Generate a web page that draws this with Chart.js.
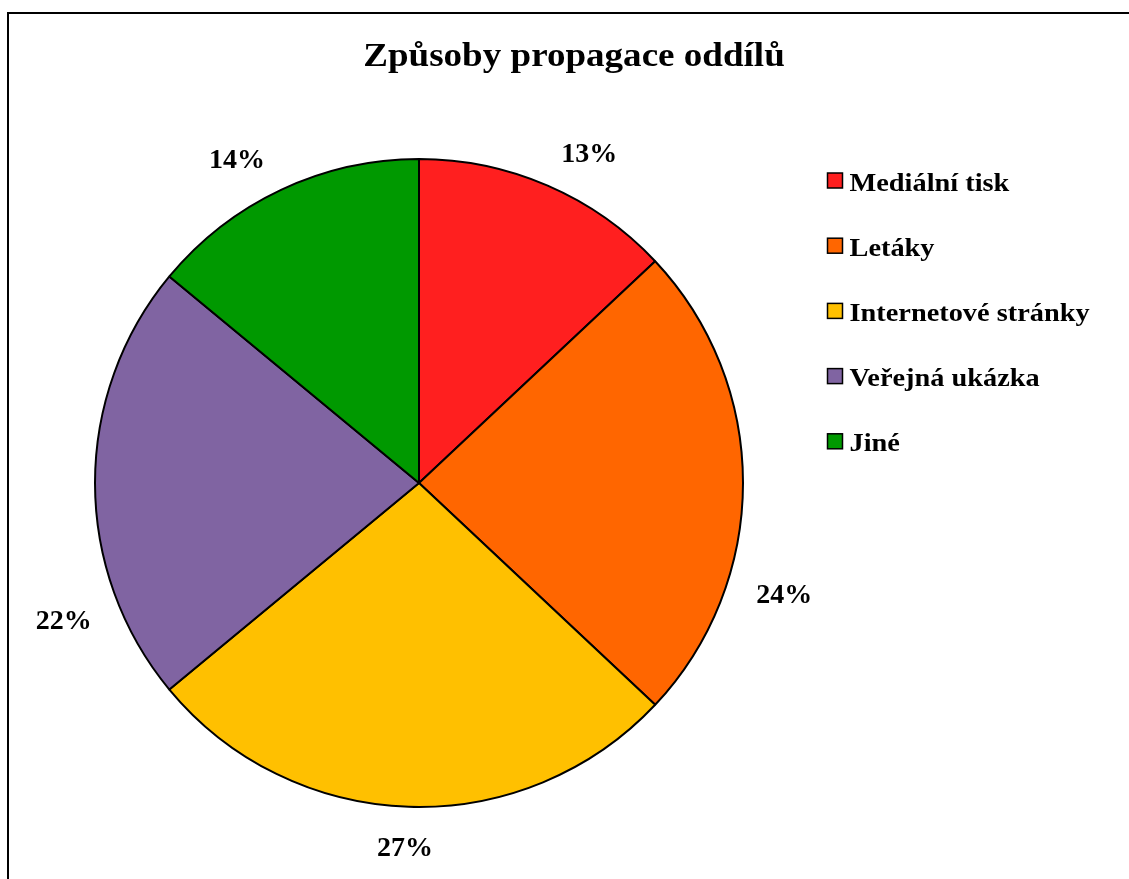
<!DOCTYPE html>
<html lang="cs">
<head>
<meta charset="utf-8">
<title>Způsoby propagace oddílů</title>
<script src="https://cdn.jsdelivr.net/npm/chart.js@4.4.1/dist/chart.umd.min.js"></script>
<style>
    html, body { margin: 0; padding: 0; background: #fff; overflow: hidden; }
    #frame {
        position: absolute; left: 7px; top: 12px;
        width: 1300px; height: 1000px;
        border-left: 2px solid #000; border-top: 2px solid #000;
        pointer-events: none;
    }
    #chart { position: absolute; left: 0; top: 0; }
</style>
</head>
<body>
<canvas id="chart" width="1129" height="879"></canvas>
<div id="frame"></div>
<script>
const TITLE = "Způsoby propagace oddílů";
const LABELS = ["Mediální tisk", "Letáky", "Internetové stránky", "Veřejná ukázka", "Jiné"];
const SHARES = [13, 24, 27, 22, 14]; // percent
const COLORS = ["#ff1f1f", "#ff6600", "#ffc000", "#8064a2", "#009900"];

const FONT = '"Liberation Serif", "Times New Roman", serif';

// draw text squeezed/stretched horizontally around its anchor
function stretchedText(ctx, text, x, y, sx) {
    ctx.save();
    ctx.translate(x, y);
    ctx.scale(sx, 1);
    ctx.fillText(text, 0, 0);
    ctx.restore();
}

// percentage labels just outside each slice
const outsideLabels = {
    id: 'outsideLabels',
    afterDatasetsDraw(chart, args, opts) {
        const {ctx} = chart;
        const meta = chart.getDatasetMeta(0);
        const values = chart.data.datasets[0].data;
        ctx.save();
        ctx.font = `bold ${opts.size}px ${FONT}`;
        ctx.fillStyle = '#000';
        ctx.textAlign = 'center';
        ctx.textBaseline = 'middle';
        meta.data.forEach((arc, i) => {
            const {x, y, startAngle, endAngle, outerRadius} =
                arc.getProps(['x', 'y', 'startAngle', 'endAngle', 'outerRadius'], true);
            const a = (startAngle + endAngle) / 2 + (opts.nudge[i] || 0) * Math.PI / 180;
            const text = values[i] + '%';
            const w = ctx.measureText(text).width;
            const h = opts.size * 0.7;
            const r = outerRadius + opts.gap;
            const cx = x + r * Math.cos(a) + w / 2 * Math.cos(a);
            const cy = y + r * Math.sin(a) + h / 2 * Math.sin(a);
            ctx.fillText(text, cx, cy);
        });
        ctx.restore();
    }
};

// title and the legend column on the right
const sideText = {
    id: 'sideText',
    afterDraw(chart, args, opts) {
        const {ctx} = chart;
        ctx.save();
        ctx.fillStyle = '#000';
        ctx.textBaseline = 'alphabetic';

        ctx.font = `bold ${opts.titleSize}px ${FONT}`;
        ctx.textAlign = 'center';
        stretchedText(ctx, TITLE, opts.titleX, opts.titleY, opts.stretch);

        ctx.font = `bold ${opts.legendSize}px ${FONT}`;
        ctx.textAlign = 'left';
        const colors = chart.data.datasets[0].backgroundColor;
        chart.data.labels.forEach((label, i) => {
            const cy = opts.legendY + i * opts.legendStep;
            ctx.fillStyle = colors[i];
            ctx.fillRect(opts.legendX, cy - opts.box / 2, opts.box, opts.box);
            ctx.lineWidth = 1.5;
            ctx.strokeStyle = '#000';
            ctx.strokeRect(opts.legendX, cy - opts.box / 2, opts.box, opts.box);
            ctx.fillStyle = '#000';
            stretchedText(ctx, label, opts.legendX + opts.box + 7, cy + 10, opts.stretch);
        });
        ctx.restore();
    }
};

new Chart(document.getElementById('chart'), {
    type: 'pie',
    data: {
        labels: LABELS,
        datasets: [{
            data: SHARES,
            backgroundColor: COLORS,
            borderColor: '#000',
            borderWidth: 2,
        }]
    },
    options: {
        responsive: false,
        animation: false,
        layout: {
            padding: {left: 94, right: 385, top: 158, bottom: 71}
        },
        plugins: {
            legend: {display: false},
            title: {display: false},
            tooltip: {enabled: false},
            outsideLabels: {size: 28, gap: 32, nudge: [2.9, 18, 0.3, -22.3, -3.1]},
            sideText: {
                titleSize: 34, titleX: 574, titleY: 66, stretch: 1.09,
                legendSize: 26, legendX: 827.5, legendY: 180.5, legendStep: 65.2, box: 15
            }
        }
    },
    plugins: [outsideLabels, sideText]
});
</script>
</body>
</html>
